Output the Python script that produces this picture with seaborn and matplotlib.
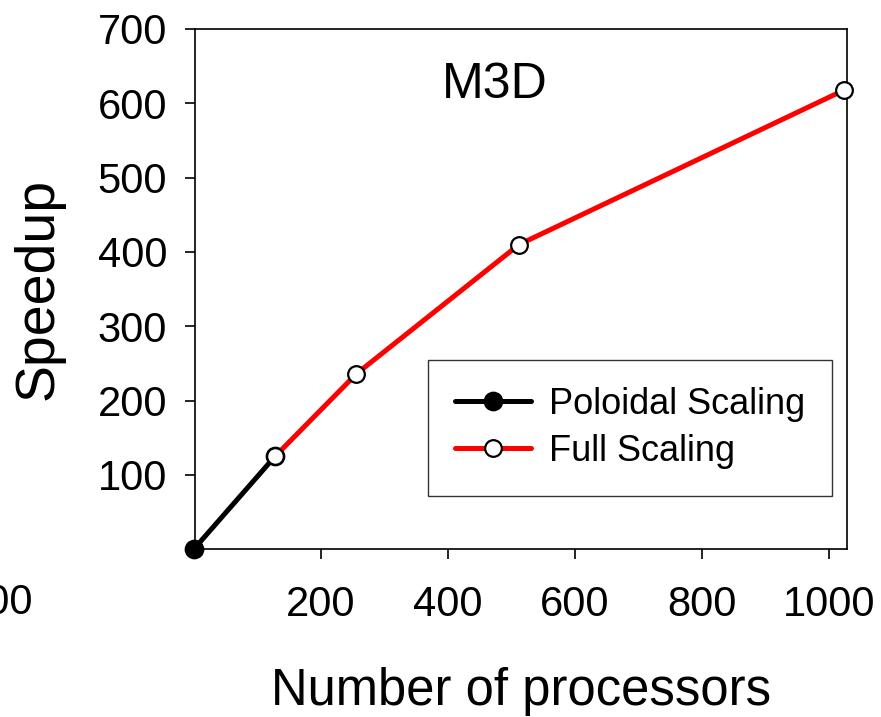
import matplotlib
matplotlib.use("Agg")
import matplotlib.pyplot as plt
import seaborn as sns
import pandas as pd

# Data
poloidal_x = [1, 128]
poloidal_y = [1, 125]
full_x = [128, 256, 512, 1024]
full_y = [125, 236, 410, 618]
x_ticks = [200, 400, 600, 800, 1000]
y_ticks = [100, 200, 300, 400, 500, 600, 700]

sns.set_style("ticks")
plt.rcParams['font.family'] = ['Liberation Sans', 'DejaVu Sans']
plt.rcParams['text.color'] = 'black'
plt.rcParams['axes.labelcolor'] = 'black'
plt.rcParams['xtick.color'] = 'black'
plt.rcParams['ytick.color'] = 'black'

fig = plt.figure(figsize=(8.81, 7.17), dpi=100)
ax = fig.add_axes([0.2213, 0.2339, 0.9614 - 0.2213, 0.9596 - 0.2339])

df_p = pd.DataFrame({"x": poloidal_x, "y": poloidal_y})
df_f = pd.DataFrame({"x": full_x, "y": full_y})

sns.lineplot(data=df_p, x="x", y="y", ax=ax, color="black", linewidth=3.6,
             marker="o", markersize=13, markerfacecolor="black",
             markeredgecolor="black", markeredgewidth=1.2,
             label="Poloidal Scaling", clip_on=False, zorder=3)
sns.lineplot(data=df_f, x="x", y="y", ax=ax, color="red", linewidth=3.6,
             marker="o", markersize=12, markerfacecolor="white",
             markeredgecolor="black", markeredgewidth=1.6,
             label="Full Scaling", clip_on=False, zorder=4)

ax.set_xlim(2, 1028)
ax.set_ylim(0, 700)
ax.set_xticks(x_ticks)
ax.set_yticks(y_ticks)
ax.tick_params(axis='both', labelsize=30, length=7, width=1.2, color='black',
               labelcolor='black', direction='out')
ax.tick_params(axis='y', pad=13)
ax.tick_params(axis='x', pad=19)
for s in ax.spines.values():
    s.set_visible(True)
    s.set_linewidth(1.2)
    s.set_color('black')

ax.set_xlabel("Number of processors", fontsize=36.5, labelpad=30)
ax.set_ylabel("Speedup", fontsize=40, labelpad=24)

ax.text(473, 624, "M3D", fontsize=36, ha='center', va='center')

leg = ax.legend(loc='upper right', bbox_to_anchor=(0.977, 0.364),
                fontsize=26, frameon=True, fancybox=False, edgecolor='black',
                handlelength=2.1, handletextpad=0.5, borderpad=0.75,
                labelspacing=0.33, borderaxespad=0.0)
leg.get_frame().set_linewidth(1.0)

# clipped neighbouring-panel label at far left
fig.text(33 / 881, 1 - 603 / 717, "1000", fontsize=30, ha='right', va='center')

fig.savefig("out.png", dpi=100)
